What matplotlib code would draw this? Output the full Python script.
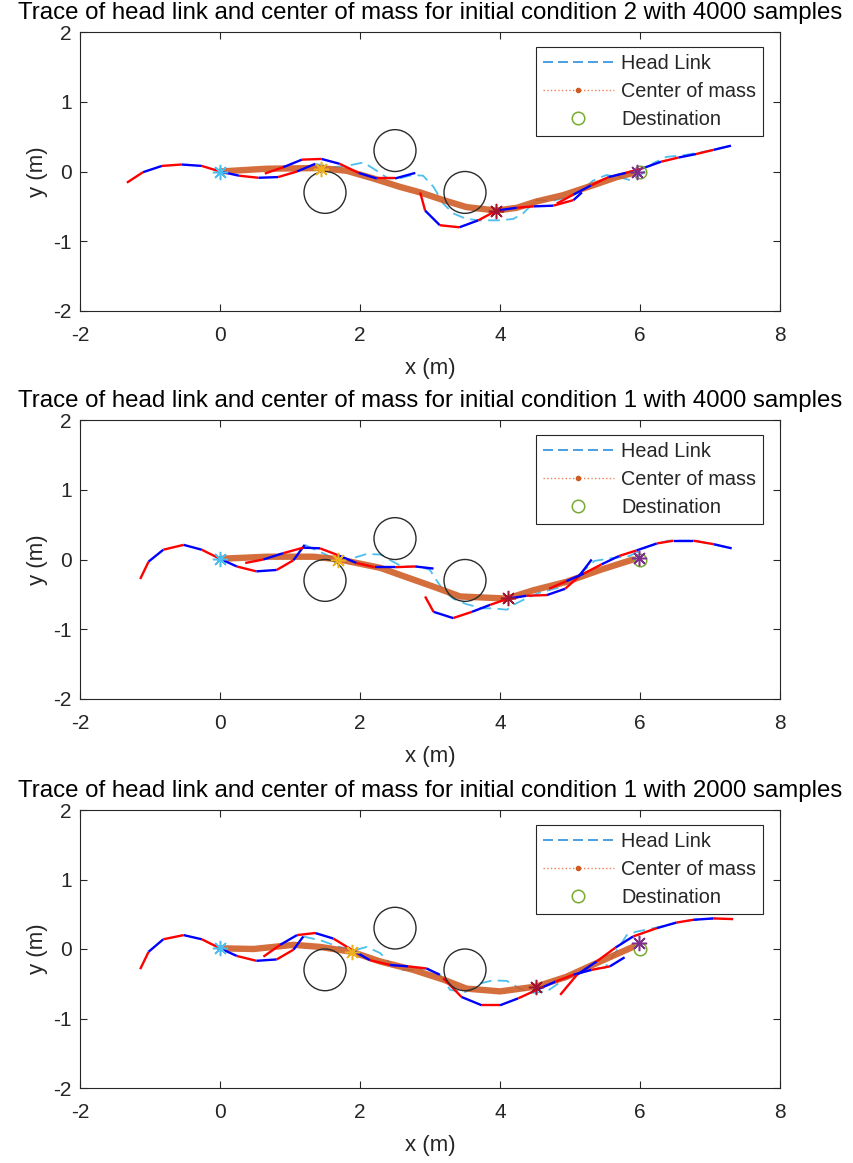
import matplotlib
matplotlib.use("Agg")
import matplotlib.pyplot as plt
from matplotlib.lines import Line2D
from matplotlib.patches import Circle

plt.rcParams['font.family'] = ['Liberation Sans', 'DejaVu Sans']
plt.rcParams['axes.unicode_minus'] = False

# ---------------------------------------------------------------- data
titles = [
    "Trace of head link and center of mass for initial condition 2 with 4000 samples",
    "Trace of head link and center of mass for initial condition 1 with 4000 samples",
    "Trace of head link and center of mass for initial condition 1 with 2000 samples",
]
x_ticks = [-2, 0, 2, 4, 6, 8]
y_ticks = [-2, -1, 0, 1, 2]
legend_labels = ["Head Link", "Center of mass", "Destination"]

obstacle_x = [1.5, 2.5, 3.5]
obstacle_y = [-0.3, 0.3, -0.3]
obstacle_r = 0.3
dest_x = 6.0
dest_y = 0.0

# initial condition 2, 4000 samples
ic2_bodies_x = [
    [-1.33, -1.10, -0.83, -0.55, -0.26, 0.00, 0.27, 0.55, 0.83, 1.10, 1.36],
    [0.64, 0.90, 1.17, 1.45, 1.71, 1.98, 2.24, 2.50, 2.79],
    [2.86, 2.93, 3.14, 3.42, 3.69, 3.95, 4.24, 4.48, 4.76, 5.05, 5.17],
    [4.81, 5.05, 5.30, 5.55, 5.80, 6.05, 6.30, 6.55, 6.80, 7.05, 7.30],
]
ic2_bodies_y = [
    [-0.16, -0.01, 0.08, 0.10, 0.08, 0.00, -0.06, -0.09, -0.08, 0.00, 0.11],
    [-0.03, 0.06, 0.17, 0.18, 0.11, -0.02, -0.10, -0.10, -0.02],
    [-0.30, -0.56, -0.77, -0.80, -0.70, -0.56, -0.52, -0.50, -0.49, -0.41, -0.30],
    [-0.46, -0.33, -0.20, -0.08, -0.02, 0.05, 0.14, 0.20, 0.25, 0.31, 0.37],
]
ic2_head_x = [1.36, 1.60, 1.86, 2.05, 2.24, 2.40, 2.55, 2.75, 2.90, 3.05, 3.19, 3.33,
              3.52, 3.71, 4.00, 4.19, 4.33, 4.52, 4.75, 5.00, 5.17, 5.33, 5.52, 5.70,
              5.88, 6.02, 6.19, 6.38, 6.60, 6.90, 7.30]
ic2_head_y = [0.11, 0.06, 0.09, 0.13, 0.01, -0.10, -0.10, -0.05, -0.06, -0.22, -0.46, -0.60,
              -0.68, -0.70, -0.70, -0.68, -0.60, -0.41, -0.42, -0.36, -0.27, -0.13, -0.05, -0.08,
              -0.13, -0.04, 0.12, 0.21, 0.23, 0.28, 0.37]
ic2_com_x = [0.00, 0.67, 1.43, 1.81, 2.19, 2.57, 2.86, 3.19, 3.52, 3.95, 4.24, 4.52,
             4.90, 5.38, 5.67, 5.95]
ic2_com_y = [0.00, 0.04, 0.05, 0.01, -0.10, -0.22, -0.30, -0.41, -0.51, -0.56, -0.52, -0.43,
             -0.34, -0.18, -0.08, -0.01]
ic2_snap_x = [0.00, 1.44, 3.95, 5.96]
ic2_snap_y = [0.00, 0.04, -0.56, -0.01]

# initial condition 1, 4000 samples
ic1_4k_bodies_x = [
    [-1.14, -1.02, -0.81, -0.52, -0.26, 0.00, 0.24, 0.52, 0.81, 1.05, 1.21],
    [0.36, 0.62, 0.90, 1.19, 1.43, 1.69, 1.95, 2.21, 2.50, 2.79, 3.05],
    [2.93, 3.05, 3.33, 3.60, 3.86, 4.12, 4.38, 4.67, 4.93, 5.12, 5.31],
    [4.70, 4.95, 5.20, 5.45, 5.70, 5.95, 6.24, 6.48, 6.76, 7.05, 7.31],
]
ic1_4k_bodies_y = [
    [-0.28, -0.03, 0.14, 0.21, 0.14, 0.01, -0.10, -0.17, -0.15, -0.01, 0.21],
    [-0.05, 0.00, 0.09, 0.17, 0.16, 0.06, -0.05, -0.11, -0.11, -0.10, -0.13],
    [-0.53, -0.75, -0.84, -0.75, -0.65, -0.56, -0.52, -0.51, -0.42, -0.25, 0.00],
    [-0.42, -0.31, -0.20, -0.07, 0.05, 0.13, 0.23, 0.27, 0.27, 0.22, 0.16],
]
ic1_4k_head_x = [1.21, 1.45, 1.70, 1.90, 2.10, 2.30, 2.45, 2.60, 2.85, 3.00, 3.08, 3.19,
                 3.33, 3.52, 3.75, 3.90, 4.10, 4.19, 4.33, 4.55, 4.85, 5.15, 5.35, 5.60,
                 5.85, 6.10, 6.40, 6.80, 7.31]
ic1_4k_head_y = [0.21, 0.10, -0.02, 0.02, 0.08, 0.07, -0.02, -0.10, -0.10, -0.15, -0.28, -0.44,
                 -0.56, -0.64, -0.70, -0.70, -0.72, -0.65, -0.58, -0.48, -0.40, -0.20, -0.02, 0.02,
                 0.05, 0.18, 0.27, 0.27, 0.16]
ic1_4k_com_x = [0.00, 0.67, 1.33, 1.71, 2.29, 2.57, 3.05, 3.43, 4.10, 4.48, 4.95, 5.43, 5.90]
ic1_4k_com_y = [0.01, 0.04, 0.04, 0.00, -0.12, -0.22, -0.39, -0.53, -0.56, -0.44, -0.32, -0.15, 0.00]
ic1_4k_snap_x = [0.00, 1.69, 4.12, 5.98]
ic1_4k_snap_y = [0.01, 0.00, -0.55, 0.02]

# initial condition 1, 2000 samples
ic1_2k_bodies_x = [
    [-1.14, -1.02, -0.81, -0.52, -0.26, 0.00, 0.24, 0.52, 0.81, 1.05, 1.19],
    [0.62, 0.86, 1.10, 1.36, 1.62, 1.88, 2.14, 2.43, 2.69, 2.95, 3.14],
    [3.19, 3.45, 3.74, 4.00, 4.26, 4.52, 4.79, 5.05, 5.31, 5.57, 5.78],
    [4.86, 5.10, 5.38, 5.65, 5.90, 6.24, 6.52, 6.76, 7.05, 7.33],
]
ic1_2k_bodies_y = [
    [-0.29, -0.04, 0.14, 0.20, 0.14, 0.01, -0.10, -0.17, -0.15, -0.01, 0.18],
    [-0.11, 0.06, 0.20, 0.23, 0.15, -0.01, -0.16, -0.23, -0.25, -0.28, -0.37],
    [-0.42, -0.69, -0.81, -0.81, -0.71, -0.59, -0.47, -0.37, -0.30, -0.25, -0.12],
    [-0.66, -0.37, -0.18, 0.02, 0.18, 0.30, 0.38, 0.42, 0.44, 0.43],
]
ic1_2k_head_x = [1.19, 1.45, 1.70, 1.95, 2.10, 2.29, 2.43, 2.57, 2.75, 2.95, 3.14, 3.29,
                 3.50, 3.70, 3.90, 4.10, 4.30, 4.48, 4.67, 4.90, 5.10, 5.30, 5.50, 5.65,
                 5.81, 5.95, 6.10, 6.29, 6.52, 6.76, 7.05, 7.33]
ic1_2k_head_y = [0.18, 0.12, 0.03, -0.01, 0.03, -0.06, -0.21, -0.30, -0.30, -0.28, -0.37, -0.59,
                 -0.62, -0.50, -0.45, -0.46, -0.58, -0.63, -0.61, -0.45, -0.37, -0.28, -0.27, -0.05,
                 0.20, 0.25, 0.28, 0.32, 0.38, 0.42, 0.44, 0.43]
ic1_2k_com_x = [0.00, 0.48, 1.05, 1.43, 1.88, 2.29, 2.76, 3.19, 3.52, 4.00, 4.52, 4.95, 5.43, 5.90]
ic1_2k_com_y = [0.01, 0.00, 0.06, 0.03, -0.04, -0.18, -0.30, -0.44, -0.57, -0.61, -0.54, -0.40, -0.18, 0.03]
ic1_2k_snap_x = [0.00, 1.88, 4.52, 5.99]
ic1_2k_snap_y = [0.01, -0.04, -0.54, 0.08]

panels = [
    (ic2_bodies_x, ic2_bodies_y, ic2_head_x, ic2_head_y, ic2_com_x, ic2_com_y, ic2_snap_x, ic2_snap_y),
    (ic1_4k_bodies_x, ic1_4k_bodies_y, ic1_4k_head_x, ic1_4k_head_y, ic1_4k_com_x, ic1_4k_com_y,
     ic1_4k_snap_x, ic1_4k_snap_y),
    (ic1_2k_bodies_x, ic1_2k_bodies_y, ic1_2k_head_x, ic1_2k_head_y, ic1_2k_com_x, ic1_2k_com_y,
     ic1_2k_snap_x, ic1_2k_snap_y),
]

# ---------------------------------------------------------------- styling
link_colors = ['#FF0000', '#0000FF']
head_color = '#4DBEEE'
com_color = '#CF5A22'
dest_color = '#77AC30'
snap_colors = ['#4DBEEE', '#EDB120', '#A2142F', '#7E2F8E']
axis_color = '#262626'

W, H = 854, 1163
fig = plt.figure(figsize=(W / 100, H / 100), dpi=100)

ax_left, ax_right = 80, 780
ax_tops = [32, 420, 810]
ax_bottoms = [311, 699, 1088]

for k, (bx, by, hx, hy, cx, cy, sx, sy) in enumerate(panels):
    ax = fig.add_axes([ax_left / W, 1 - ax_bottoms[k] / H,
                       (ax_right - ax_left) / W, (ax_bottoms[k] - ax_tops[k]) / H])

    # head link trajectory
    ax.plot(hx, hy, color=head_color, lw=1.3, ls=(0, (6.5, 3.5)), zorder=2)
    # centre of mass trajectory
    ax.plot(cx, cy, color=com_color, lw=4.6, alpha=0.88, solid_capstyle='round',
            solid_joinstyle='round', zorder=3)

    # snake body snapshots, links alternately red and blue
    for px, py in zip(bx, by):
        for i in range(len(px) - 1):
            ax.plot(px[i:i + 2], py[i:i + 2], color=link_colors[i % 2], lw=1.7,
                    solid_capstyle='butt', zorder=4)

    # obstacles
    for ox, oy in zip(obstacle_x, obstacle_y):
        ax.add_patch(Circle((ox, oy), obstacle_r, fill=False, ec='#2b2b2b', lw=1.0, zorder=5))

    # destination
    ax.plot([dest_x], [dest_y], ls='none', marker='o', ms=9, mfc='none', mec=dest_color,
            mew=1.1, zorder=6)

    # centre of mass at the body snapshots
    for x0, y0, c in zip(sx, sy, snap_colors):
        ax.plot([x0], [y0], ls='none', marker=(8, 2, 0), ms=11, mec=c, mew=1.1, zorder=7)

    ax.set_xlim(-2, 8)
    ax.set_ylim(-2, 2)
    ax.set_xticks(x_ticks)
    ax.set_yticks(y_ticks)
    ax.tick_params(direction='in', top=True, right=True, labelsize=15, colors=axis_color,
                   length=5, width=0.8)
    ax.tick_params(axis='x', pad=11)
    ax.tick_params(axis='y', pad=6)
    for s in ax.spines.values():
        s.set_color(axis_color)
        s.set_linewidth(0.8)
    ax.set_xlabel("x (m)", fontsize=16, color=axis_color, labelpad=9)
    ax.set_ylabel("y (m)", fontsize=16, color=axis_color, labelpad=4)
    ax.set_title(titles[k], fontsize=17.3, color='#000000', pad=9)

    handles = [
        Line2D([], [], color='#2C8FDB', lw=1.2, ls=(0, (6, 3))),
        Line2D([], [], color='#EE7F4F', lw=1.0, ls=':', marker='.', ms=6,
               markevery=[1], mfc=com_color, mec=com_color),
        Line2D([], [], ls='none', marker='o', ms=9, mfc='none', mec=dest_color, mew=1.1),
    ]
    leg = ax.legend(handles, legend_labels, loc='upper right',
                    bbox_to_anchor=((763 - ax_left) / (ax_right - ax_left),
                                    (ax_bottoms[k] - (ax_tops[k] + 15)) / (ax_bottoms[k] - ax_tops[k])),
                    borderaxespad=0, fontsize=14.3, handlelength=3.6, handletextpad=0.35,
                    labelspacing=0.45, borderpad=0.35, fancybox=False, framealpha=1,
                    edgecolor=axis_color)
    leg.get_frame().set_linewidth(0.8)
    for t in leg.get_texts():
        t.set_color(axis_color)

fig.savefig("out.png", dpi=100)
